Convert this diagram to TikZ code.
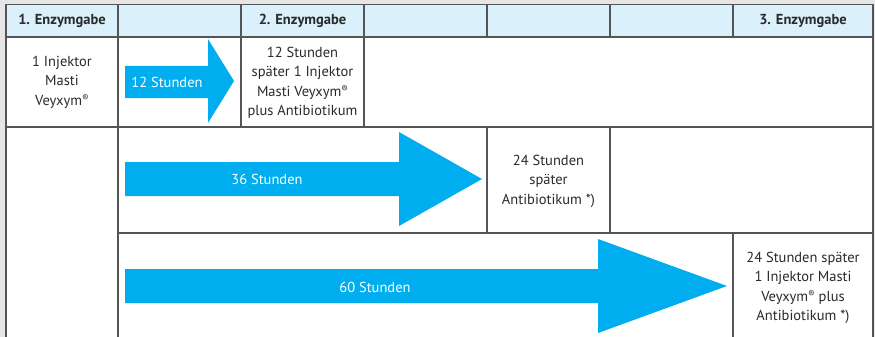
\documentclass[tikz,border=0pt]{standalone}
\usepackage{fontspec}
\setmainfont{PT Sans}
\definecolor{bg}{HTML}{E6E6E6}
\definecolor{hdr}{HTML}{DAF0FA}
\definecolor{gridc}{HTML}{555555}
\definecolor{arrc}{HTML}{00AEEF}
\definecolor{txt}{HTML}{2A2A2A}
\newcommand{\regmark}{\raisebox{0.55ex}{\fontsize{9.5}{9.5}\selectfont ®}}
\begin{document}
\begin{tikzpicture}[x=1pt,y=-1pt,
  gridline/.style={draw=gridc,line width=1.4pt},
  hdrtext/.style={font=\fontsize{14.5}{16}\selectfont\bfseries, text=txt, inner sep=0pt},
  celltext/.style={font=\fontsize{14.5}{19.5}\selectfont, align=center, text=txt, inner sep=0pt},
  arrtext/.style={font=\fontsize{14.5}{16}\selectfont, text=white, inner sep=0pt},
  arrowfill/.style={fill=arrc}
]
\useasboundingbox (0,0) rectangle (875,337);
\fill[bg] (0,0) rectangle (875,337);
\fill[white] (6,4) rectangle (873,337);
\fill[hdr] (6,4) rectangle (873,37);

% grid lines
\draw[gridline] (6,337) -- (6,4.5) -- (873,4.5) -- (873,337);
\draw[gridline] (6,37) -- (873,37);
\foreach \x in {118,241,364,487,610,733} \draw[gridline] (\x,4.5) -- (\x,37);
\foreach \x in {241,364} \draw[gridline] (\x,37) -- (\x,127);
\draw[gridline] (118,37) -- (118,337);
\draw[gridline] (6,127) -- (873,127);
\foreach \x in {487,610} \draw[gridline] (\x,127) -- (\x,233);
\draw[gridline] (118,233) -- (873,233);
\draw[gridline] (733,233) -- (733,337);

% header
\node[hdrtext] (h1) at (62,20.5) {1. Enzymgabe};
\node[hdrtext] (h2) at (302.5,20.5) {2. Enzymgabe};
\node[hdrtext] (h3) at (803,20.5) {3. Enzymgabe};

% arrows
\fill[arrowfill] (125,66) -- (208,66) -- (208,39) -- (234,81) -- (208,123) -- (208,98) -- (125,98) -- cycle;
\fill[arrowfill] (125,162) -- (399,162) -- (399,132) -- (482,179) -- (399,226) -- (399,196) -- (125,196) -- cycle;
\fill[arrowfill] (125,269) -- (598,269) -- (598,239) -- (727,286) -- (598,333) -- (598,303) -- (125,303) -- cycle;

\node[arrtext] (a1) at (167,82) {12 Stunden};
\node[arrtext] (a2) at (267,179) {36 Stunden};
\node[arrtext] (a3) at (375,287) {60 Stunden};

% cells
\node[celltext] (c1) at (62,82) {1 Injektor\\Masti\\Veyxym\regmark};
\node[celltext] (c2) at (302.5,83) {12 Stunden\\später 1 Injektor\\Masti Veyxym\regmark\\plus Antibiotikum};
\node[celltext] (c3) at (548.5,181) {24 Stunden\\später\\Antibiotikum *)};
\node[celltext] (c4) at (803,288) {24 Stunden später\\1 Injektor Masti\\Veyxym\regmark{} plus\\Antibiotikum *)};
\end{tikzpicture}
\end{document}
